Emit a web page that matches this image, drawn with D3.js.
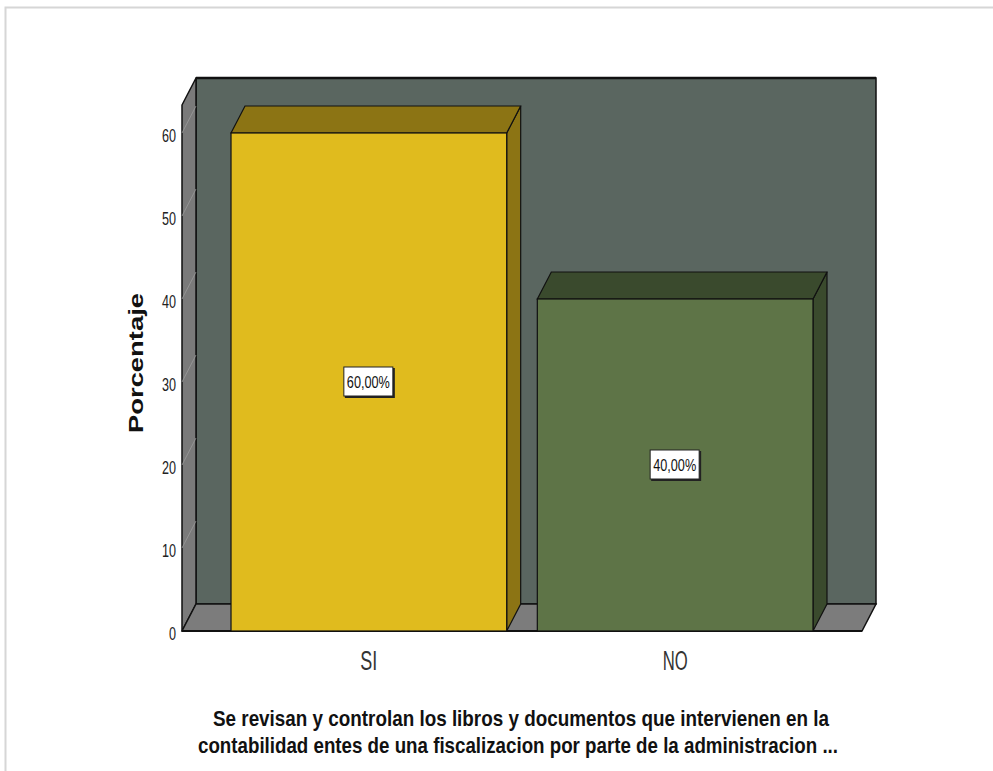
<!DOCTYPE html>
<html>
<head>
<meta charset="utf-8">
<script src="https://cdn.jsdelivr.net/npm/d3@7"></script>
<style>
  body { margin: 0; background: #fff; }
  svg { display: block; }
</style>
</head>
<body>
<svg id="chart" width="993" height="771"></svg>
<script>
// data
const categories = ["SI", "NO"];
const percentages = [60, 40];
const valueLabels = ["60,00%", "40,00%"];
const yTicks = [0, 10, 20, 30, 40, 50, 60];
const titleLines = [
  "Se revisan y controlan los libros y documentos que intervienen en la",
  "contabilidad entes de una fiscalizacion por parte de la administracion ..."
];

const frontColors = ["#e0bb1e", "#5e7447"];
const darkColors = ["#8c7414", "#3a4a2d"];

const svg = d3.select("#chart");

// outer frame
svg.append("rect")
  .attr("x", 5.5).attr("y", 7.5)
  .attr("width", 1000).attr("height", 800)
  .attr("fill", "none")
  .attr("stroke", "#d6d6d6")
  .attr("stroke-width", 2);

// plot geometry (front plane) + depth offset
const left = 182, right = 862;
const dx = 14, dy = -27;

const y = d3.scaleLinear().domain([0, 60]).range([631, 133]);
const x = d3.scaleBand()
  .domain(categories)
  .range([left, right])
  .paddingInner(0.1)
  .paddingOuter(0.16);

const wallTop = y(60) - 28; // walls go a little over 60
const base = y(0);

const poly = pts => "M" + pts.map(p => p.join(",")).join("L") + "Z";

// back wall
svg.append("path")
  .attr("d", poly([[left + dx, wallTop + dy], [right + dx, wallTop + dy], [right + dx, base + dy], [left + dx, base + dy]]))
  .attr("fill", "#5a6660")
  .attr("stroke", "#111")
  .attr("stroke-width", 1.5);

// left wall
svg.append("path")
  .attr("d", poly([[left, wallTop], [left + dx, wallTop + dy], [left + dx, base + dy], [left, base]]))
  .attr("fill", "#7a7a7a")
  .attr("stroke", "#111")
  .attr("stroke-width", 1.5);

// floor
svg.append("path")
  .attr("d", poly([[left, base], [left + dx, base + dy], [right + dx, base + dy], [right, base]]))
  .attr("fill", "#7c7c7c")
  .attr("stroke", "#111")
  .attr("stroke-width", 1.5);

// faint gridlines on the left wall
svg.append("g")
  .selectAll("line")
  .data(yTicks.filter(d => d > 0))
  .join("line")
  .attr("x1", left).attr("y1", d => y(d))
  .attr("x2", left + dx).attr("y2", d => y(d) + dy)
  .attr("stroke", "#9a9a9a")
  .attr("stroke-width", 0.8);

// thicker edges like the original
svg.append("line")
  .attr("x1", left + dx).attr("y1", wallTop + dy).attr("x2", right + dx).attr("y2", wallTop + dy)
  .attr("stroke", "#111").attr("stroke-width", 2.5);
svg.append("line")
  .attr("x1", left).attr("y1", base).attr("x2", right).attr("y2", base)
  .attr("stroke", "#111").attr("stroke-width", 2);

// bars
const bars = svg.append("g")
  .selectAll("g")
  .data(categories.map((c, i) => ({ c, v: percentages[i], i })))
  .join("g");

bars.append("path") // side
  .attr("d", d => {
    const x1 = x(d.c) + x.bandwidth();
    return poly([[x1, y(d.v)], [x1 + dx, y(d.v) + dy], [x1 + dx, base + dy], [x1, base]]);
  })
  .attr("fill", d => darkColors[d.i])
  .attr("stroke", "#111").attr("stroke-width", 1.2);

bars.append("path") // top
  .attr("d", d => {
    const x0 = x(d.c), x1 = x0 + x.bandwidth();
    return poly([[x0, y(d.v)], [x0 + dx, y(d.v) + dy], [x1 + dx, y(d.v) + dy], [x1, y(d.v)]]);
  })
  .attr("fill", d => darkColors[d.i])
  .attr("stroke", "#111").attr("stroke-width", 1.2);

bars.append("rect") // front
  .attr("x", d => x(d.c))
  .attr("y", d => y(d.v))
  .attr("width", x.bandwidth())
  .attr("height", d => base - y(d.v))
  .attr("fill", d => frontColors[d.i])
  .attr("stroke", "#111").attr("stroke-width", 1.2);

// value labels in the middle of each bar
const lab = bars.append("g")
  .attr("transform", d => `translate(${x(d.c) + x.bandwidth() / 2},${y(d.v / 2)})`);
lab.append("rect")
  .attr("x", -24).attr("y", -14).attr("width", 50).attr("height", 30)
  .attr("fill", "#222");
lab.append("rect")
  .attr("x", -25).attr("y", -15).attr("width", 49).attr("height", 29)
  .attr("fill", "#fff")
  .attr("stroke", "#222").attr("stroke-width", 1);
lab.append("text")
  .attr("x", -0.5).attr("y", 6)
  .attr("text-anchor", "middle")
  .attr("font-family", "Liberation Sans, Arial, sans-serif")
  .attr("font-size", 16)
  .attr("textLength", 43).attr("lengthAdjust", "spacingAndGlyphs")
  .attr("fill", "#111")
  .text(d => valueLabels[d.i]);

// y axis
const yAxis = d3.axisLeft(y).tickValues(yTicks).tickSize(0).tickPadding(0);
const yg = svg.append("g")
  .attr("transform", `translate(${left - 6},2)`)
  .call(yAxis);
yg.select(".domain").remove();
yg.selectAll("text")
  .attr("font-family", "Liberation Sans, Arial, sans-serif")
  .attr("font-size", 19)
  .attr("fill", "#222")
  .attr("textLength", d => d === 0 ? 7 : 14)
  .attr("lengthAdjust", "spacingAndGlyphs");

// x axis labels
const xAxis = d3.axisBottom(x).tickSize(0).tickPadding(0);
const xg = svg.append("g")
  .attr("transform", `translate(0,${base})`)
  .call(xAxis);
xg.select(".domain").remove();
xg.selectAll("text")
  .attr("font-family", "Liberation Sans, Arial, sans-serif")
  .attr("font-size", 27)
  .attr("fill", "#333")
  .attr("y", 39)
  .attr("dy", 0)
  .attr("textLength", d => d === "SI" ? 17 : 25)
  .attr("lengthAdjust", "spacingAndGlyphs");

// y title
svg.append("text")
  .attr("transform", `translate(143,363) rotate(-90)`)
  .attr("text-anchor", "middle")
  .attr("font-family", "Liberation Sans, Arial, sans-serif")
  .attr("font-weight", "bold")
  .attr("font-size", 20)
  .attr("textLength", 140).attr("lengthAdjust", "spacingAndGlyphs")
  .attr("fill", "#111")
  .text("Porcentaje");

// x title
svg.append("g")
  .selectAll("text")
  .data(titleLines)
  .join("text")
  .attr("x", (d, i) => i === 0 ? 521 : 518)
  .attr("y", (d, i) => 726 + i * 27)
  .attr("text-anchor", "middle")
  .attr("font-family", "Liberation Sans, Arial, sans-serif")
  .attr("font-weight", "bold")
  .attr("font-size", 22)
  .attr("textLength", (d, i) => i === 0 ? 616 : 640)
  .attr("lengthAdjust", "spacingAndGlyphs")
  .attr("fill", "#111")
  .text(d => d);
</script>
</body>
</html>
